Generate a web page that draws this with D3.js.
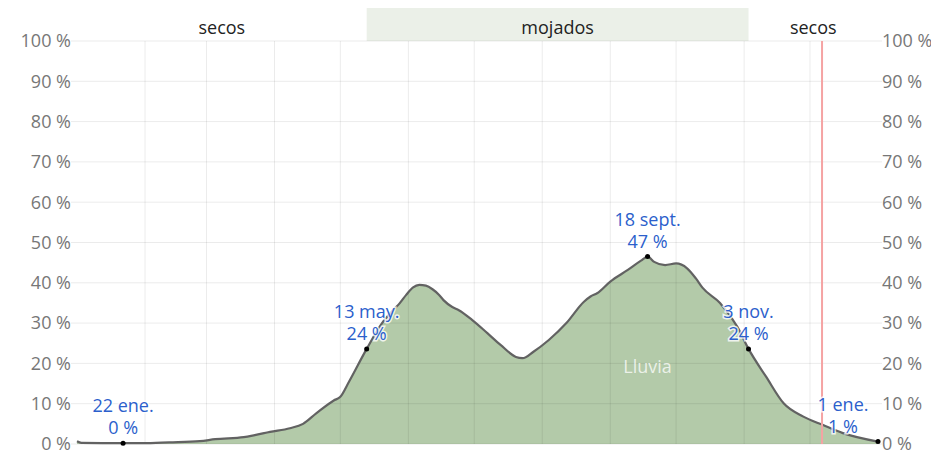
<!DOCTYPE html>
<html>
<head>
<meta charset="utf-8">
<script src="https://cdn.jsdelivr.net/npm/d3@7"></script>
<style>
  body { margin: 0; background: #fff; }
  svg { font-family: "Segoe UI", "Open Sans", sans-serif; }
</style>
</head>
<body>
<div id="chart"></div>
<script>
// daily chance of rain over the year (day of year -> %)
const days  = [0, 2, 21, 30, 42, 56, 63, 76, 81, 88, 97, 103, 109, 117, 120, 124, 132, 139, 144, 147, 150, 153,
               156, 159, 162, 165, 167, 171, 174, 180, 187, 193, 200, 203, 208, 215, 223, 231, 234, 237, 243, 251,
               257, 260, 263, 268, 273, 278, 282, 285, 293, 301, 306, 314, 322, 331, 340, 349, 365];
const probs = [0.7, 0.3, 0.2, 0.2, 0.4, 0.7, 1.2, 1.7, 2.2, 3.0, 3.9, 5.0, 7.6, 10.8, 11.7, 15.5, 23.6, 30.0, 33.2, 34.9, 37.0, 38.8,
               39.5, 39.3, 38.4, 37.0, 35.7, 34.0, 33.2, 30.8, 27.5, 24.6, 21.6, 21.3, 22.9, 25.8, 30.0, 35.3, 36.6, 37.4, 40.3, 43.2,
               45.5, 46.5, 45.2, 44.4, 44.8, 43.6, 41.1, 38.8, 35.0, 29.0, 23.6, 16.7, 10.1, 6.8, 4.7, 2.7, 0.6];

const monthStarts = [31, 59, 90, 120, 151, 181, 212, 243, 273, 304, 334];
const pctTicks = [0, 10, 20, 30, 40, 50, 60, 70, 80, 90, 100];

const seasonNames = ["secos", "mojados", "secos"];
const seasonStart = [0, 132, 306];
const seasonEnd   = [132, 306, 365];

const noteDays   = [21, 132, 260, 306, 365];
const noteDates  = ["22 ene.", "13 may.", "18 sept.", "3 nov.", "1 ene."];
const noteValues = [0.2, 23.6, 46.5, 23.6, 0.6];

const todayDay = 339.5;

const width = 931, height = 450;
const margin = { top: 41, right: 53, bottom: 6, left: 77 };
const fs = "18px";

const svg = d3.select("#chart").append("svg")
    .attr("width", width)
    .attr("height", height);

const x = d3.scaleLinear()
    .domain([0, 365])
    .range([margin.left, width - margin.right]);

const y = d3.scaleLinear()
    .domain([0, 100])
    .range([height - margin.bottom, margin.top]);

// season band on top
svg.append("g")
    .selectAll("rect")
    .data(seasonNames)
    .join("rect")
    .attr("x", (d, i) => x(seasonStart[i]))
    .attr("width", (d, i) => x(seasonEnd[i]) - x(seasonStart[i]))
    .attr("y", 8)
    .attr("height", margin.top - 8)
    .attr("fill", d => d === "mojados" ? "#ebf0e8" : "none");

svg.append("g")
    .selectAll("text")
    .data(seasonNames)
    .join("text")
    .attr("x", (d, i) => (x(seasonStart[i]) + x(seasonEnd[i])) / 2)
    .attr("y", 34)
    .attr("text-anchor", "middle")
    .attr("font-size", fs)
    .attr("fill", "#222")
    .text(d => d);

// area + line
const pts = days.map((d, i) => ({ day: d, p: probs[i] }));

svg.append("path")
    .datum(pts)
    .attr("fill", "#b3caa9")
    .attr("d", d3.area().curve(d3.curveMonotoneX)
        .x(d => x(d.day)).y0(y(0)).y1(d => y(d.p)));

// grid
svg.append("g")
    .selectAll("line")
    .data(pctTicks)
    .join("line")
    .attr("x1", margin.left - 6)
    .attr("x2", width - margin.right + 4)
    .attr("y1", d => y(d))
    .attr("y2", d => y(d))
    .attr("stroke", "#000")
    .attr("stroke-opacity", 0.08);

svg.append("g")
    .selectAll("line")
    .data(monthStarts)
    .join("line")
    .attr("x1", d => x(d))
    .attr("x2", d => x(d))
    .attr("y1", y(100))
    .attr("y2", y(0))
    .attr("stroke", "#000")
    .attr("stroke-opacity", 0.08);

svg.append("path")
    .datum(pts)
    .attr("fill", "none")
    .attr("stroke", "#626262")
    .attr("stroke-width", 2.2)
    .attr("stroke-linejoin", "round")
    .attr("d", d3.line().curve(d3.curveMonotoneX)
        .x(d => x(d.day)).y(d => y(d.p)));

// today marker
svg.append("line")
    .attr("x1", x(todayDay))
    .attr("x2", x(todayDay))
    .attr("y1", y(100))
    .attr("y2", y(0))
    .attr("stroke", "#f5a3a3")
    .attr("stroke-width", 2);

// axis labels both sides
svg.append("g")
    .selectAll("text")
    .data(pctTicks)
    .join("text")
    .attr("x", margin.left - 6)
    .attr("y", d => y(d))
    .attr("dy", "0.35em")
    .attr("text-anchor", "end")
    .attr("font-size", fs)
    .attr("fill", "#777")
    .text(d => d + " %");

svg.append("g")
    .selectAll("text")
    .data(pctTicks)
    .join("text")
    .attr("x", width - margin.right + 4)
    .attr("y", d => y(d))
    .attr("dy", "0.35em")
    .attr("text-anchor", "start")
    .attr("font-size", fs)
    .attr("fill", "#777")
    .text(d => d + " %");

// series label
svg.append("text")
    .attr("x", x(260))
    .attr("y", y(17.6))
    .attr("text-anchor", "middle")
    .attr("font-size", fs)
    .attr("fill", "#fff")
    .attr("fill-opacity", 0.75)
    .text("Lluvia");

// annotations
const notes = svg.append("g")
    .selectAll("g")
    .data(noteDays)
    .join("g")
    .attr("transform", (d, i) => `translate(${x(d)},${y(noteValues[i])})`);

notes.append("circle")
    .attr("r", 2.5)
    .attr("fill", "#000");

const shift = d => x(d) > width - margin.right - 30 ? -35 : 0;

notes.each(function(d, i) {
    const g = d3.select(this);
    [noteDates[i], Math.round(noteValues[i]) + " %"].forEach((t, k) => {
        g.append("text")
            .attr("x", shift(d))
            .attr("y", k === 0 ? -31 : -9)
            .attr("text-anchor", "middle")
            .attr("font-size", fs)
            .attr("fill", "#2c5fcc")
            .attr("stroke", "#fff")
            .attr("stroke-opacity", 0.8)
            .attr("stroke-width", 3)
            .attr("paint-order", "stroke")
            .text(t);
    });
});
</script>
</body>
</html>
